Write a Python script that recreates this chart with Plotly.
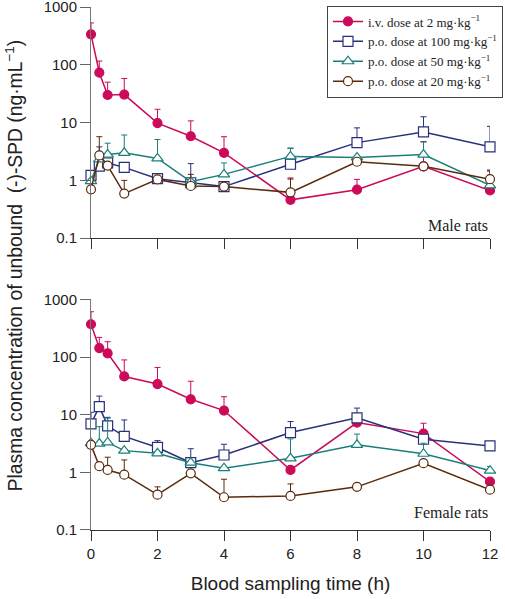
import plotly.graph_objects as go

# ---------------- data ----------------
time_h = [0, 0.25, 0.5, 1, 2, 3, 4, 6, 8, 10, 12]
x_ticks = [0, 2, 4, 6, 8, 10, 12]
y_tickvals = [0.1, 1, 10, 100, 1000]
y_ticktext = ["0.1", "1", "10", "100", "1000"]

series_names = [
    "i.v. dose at 2 mg·kg<sup>−1</sup>",
    "p.o. dose at 100 mg·kg<sup>−1</sup>",
    "p.o. dose at 50 mg·kg<sup>−1</sup>",
    "p.o. dose at 20 mg·kg<sup>−1</sup>",
]

# Male rats (means)
male_iv = [337, 73, 30, 30.5, 9.8, 5.8, 3.0, 0.46, 0.69, 1.75, 0.67]
male_p100 = [1.22, 1.77, 2.0, 1.68, 1.07, 0.91, 0.78, 1.9, 4.5, 6.9, 3.8]
male_p50 = [0.97, 2.3, 2.8, 3.0, 2.4, 0.95, 1.27, 2.6, 2.5, 2.8, 0.82]
male_p20 = [0.70, 2.7, 1.8, 0.59, 1.04, 0.80, 0.78, 0.62, 2.1, 1.75, 1.05]
# Male rats (upper end of error bars; None = no bar)
male_iv_top = [530, 116, 50, 58, 17, 10.7, 5.7, 1.05, 1.04, 4.7, 1.5]
male_p100_top = [None, 3.8, None, None, None, 1.95, None, 3.6, 8.1, 12.6, 8.6]
male_p50_top = [None, None, 4.4, 6.1, 5.1, None, 2.0, 3.6, None, 4.6, 1.5]
male_p20_top = [None, 5.7, None, 1.0, None, 1.27, None, 1.1, None, None, 1.45]

# Female rats (means)
female_iv = [370, 143, 116, 46, 34, 18.5, 11.8, 1.1, 7.3, 4.7, 0.69]
female_p100 = [6.9, 13.8, 6.4, 4.2, 2.7, 1.47, 2.0, 4.9, 8.8, 3.75, 2.87]
female_p50 = [3.2, 3.15, 3.3, 2.38, 2.14, 1.47, 1.18, 1.75, 3.0, 2.1, 1.07]
female_p20 = [3.0, 1.28, 1.1, 0.91, 0.41, 0.96, 0.37, 0.39, 0.56, 1.44, 0.50]
# Female rats (upper end of error bars)
female_iv_top = [610, 219, 184, 89, 66, 38, 20.5, None, None, 7.1, None]
female_p100_top = [11, 21, 9, 8.1, 3.55, 2.57, 3.07, 7.6, 13, None, None]
female_p50_top = [None, 6.2, 8.7, None, None, None, None, 3.8, 4.6, 3.2, 1.26]
female_p20_top = [None, None, 1.83, 1.64, 0.56, None, 0.76, 0.63, None, None, None]

# ---------------- styling ----------------
colors = ["#CC0A5A", "#27317A", "#1A7F7A", "#5A2A0C"]
fills = ["#CC0A5A", "white", "white", "white"]
symbols = ["circle", "square", "triangle-up", "circle"]
sizes = [9, 10, 10, 9]


def upper(vals, tops):
    return [(t - v) if t is not None else 0 for v, t in zip(vals, tops)]


fig = go.Figure()

panels = [
    ("y", "x", [male_iv, male_p100, male_p50, male_p20],
     [male_iv_top, male_p100_top, male_p50_top, male_p20_top], True),
    ("y2", "x2", [female_iv, female_p100, female_p50, female_p20],
     [female_iv_top, female_p100_top, female_p50_top, female_p20_top], False),
]

for yax, xax, vals_list, tops_list, show in panels:
    for i in range(4):
        fig.add_trace(go.Scatter(
            x=time_h, y=vals_list[i], yaxis=yax, xaxis=xax,
            mode="lines+markers", name=series_names[i], showlegend=show,
            line=dict(color=colors[i], width=1.5),
            marker=dict(symbol=symbols[i], size=sizes[i], color=fills[i],
                        line=dict(color=colors[i], width=1.2)),
            error_y=dict(type="data", symmetric=False,
                         array=upper(vals_list[i], tops_list[i]),
                         arrayminus=[0] * len(time_h),
                         color=colors[i], thickness=1, width=3),
            cliponaxis=False,
        ))

axis_font = dict(family="Arial", size=15, color="#222")

common_x = dict(range=[0, 12], tickvals=x_ticks, ticks="outside", ticklen=10,
                tickcolor="#333", showline=True, linecolor="#333", linewidth=1,
                showgrid=False, zeroline=False, tickfont=axis_font,
                ticklabeloverflow="allow")
common_y = dict(type="log", range=[-1, 3], tickvals=y_tickvals, ticktext=y_ticktext,
                ticks="outside", ticklen=10, tickcolor="#666", showline=True,
                linecolor="#777", linewidth=1, showgrid=False, zeroline=False,
                tickfont=axis_font, ticklabeloverflow="allow")

fig.update_layout(
    width=505, height=599,
    margin=dict(l=91, r=15, t=7, b=69, autoexpand=False),
    paper_bgcolor="white", plot_bgcolor="white",
    xaxis=dict(**common_x, domain=[0, 1], anchor="y", showticklabels=False),
    xaxis2=dict(**common_x, domain=[0, 1], anchor="y2",
                title=dict(text="Blood sampling time (h)",
                           font=dict(family="Arial", size=19, color="#222"),
                           standoff=15)),
    yaxis=dict(**common_y, domain=[0.558, 1], anchor="x"),
    yaxis2=dict(**common_y, domain=[0, 0.441], anchor="x2"),
    legend=dict(xref="container", yref="container",
                x=503 / 505, xanchor="right", y=1 - 5.5 / 599, yanchor="top",
                bordercolor="#444", borderwidth=1, bgcolor="white",
                font=dict(family="Liberation Serif, Times New Roman", size=13, color="#222"),
                tracegroupgap=0, itemwidth=30),
    showlegend=True,
    annotations=[
        dict(text="Male rats", x=1, y=0.562, xref="paper", yref="paper",
             xanchor="right", yanchor="bottom", showarrow=False,
             font=dict(family="Liberation Serif, Times New Roman", size=16, color="#222")),
        dict(text="Female rats", x=1, y=0.013, xref="paper", yref="paper",
             xanchor="right", yanchor="bottom", showarrow=False,
             font=dict(family="Liberation Serif, Times New Roman", size=16, color="#222")),
        dict(text="Plasma concentration of unbound  (-)-SPD (ng·mL<sup>−1</sup>)",
             x=-0.193, y=0.506, xref="paper", yref="paper", textangle=-90,
             xanchor="center", yanchor="middle", showarrow=False,
             font=dict(family="Arial", size=19.3, color="#222")),
    ],
)

fig.write_html("out.html", config={"displayModeBar": False},
               post_script="document.body.style.margin='0';")
